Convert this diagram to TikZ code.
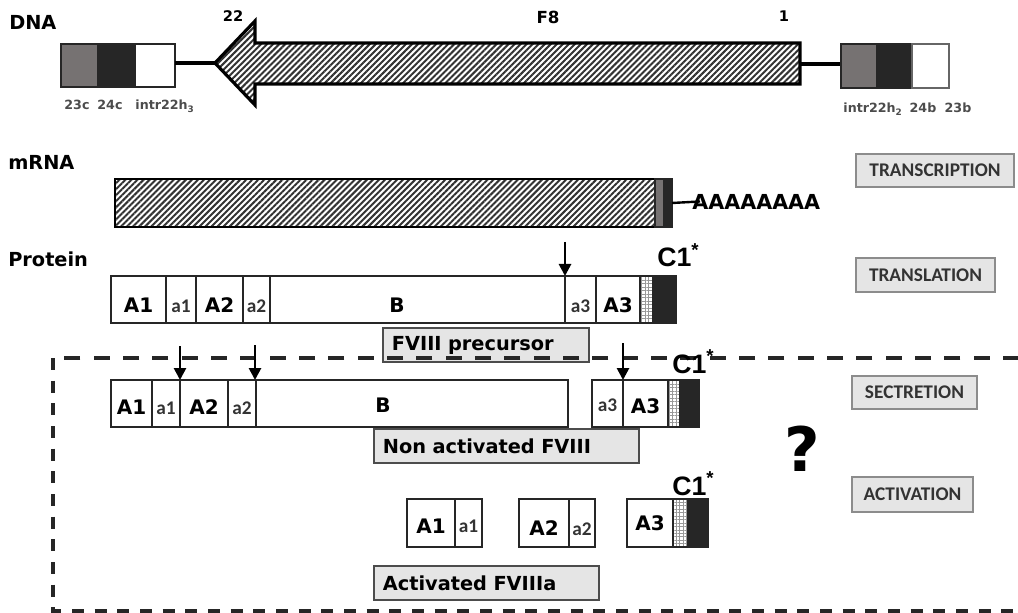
\documentclass[tikz,border=0pt]{standalone}
\usepackage{fontspec}
\setmainfont{DejaVu Sans}
\newfontfamily\calfont{Carlito}
\newfontfamily\arialfont{Liberation Sans}
\usetikzlibrary{patterns.meta,arrows.meta,calc}
\definecolor{gbox}{HTML}{767272}
\definecolor{dbox}{HTML}{262626}
\begin{document}
\begin{tikzpicture}[x=0.75pt,y=-0.75pt,
  outl/.style={draw=black!85,line width=1.9pt},
  hatch/.style={preaction={fill=white},pattern={Lines[angle=45,distance=3.2pt,line width=1.5pt]},pattern color=black!80},
  gridp/.style={preaction={fill=white},preaction={pattern={Lines[angle=0,distance=2.6pt,line width=0.35pt]},pattern color=black!40},pattern={Lines[angle=90,distance=2.6pt,line width=0.35pt]},pattern color=black!40},
  big/.style={font=\bfseries\fontsize{15}{15}\selectfont,anchor=base,inner sep=0pt},
  sml/.style={font=\calfont\bfseries\fontsize{14.5}{14.5}\selectfont,text=black!80,anchor=base,inner sep=0pt},
  hdr/.style={font=\bfseries\fontsize{14.5}{14.5}\selectfont,anchor=base west,inner sep=0pt},
  tiny/.style={font=\bfseries\fontsize{9.5}{9.5}\selectfont,text=black!70,anchor=base,inner sep=0pt},
  num/.style={font=\bfseries\fontsize{11}{11}\selectfont,anchor=base,inner sep=0pt},
  c1/.style={font=\arialfont\bfseries\fontsize{20}{20}\selectfont,anchor=base west,inner sep=0pt},
  stepbox/.style={draw=black!45,fill=black!10,line width=1.3pt,font=\calfont\bfseries\fontsize{14.5}{14.5}\selectfont,text=black!80,inner sep=0pt},
  namebox/.style={draw=black!70,fill=black!10,line width=1.4pt,font=\bfseries\fontsize{14.5}{14.5}\selectfont,inner ysep=0pt,inner xsep=6.75pt,align=left,anchor=west},
  cut/.style={line width=2pt,-{Triangle[width=9pt,length=9pt]}},
  dashline/.style={line width=2.6pt,draw=black!85}
]
\useasboundingbox (0,0) rectangle (1018,613);

% ---------------- DNA ----------------
\node[hdr] (dna) at (9,30) {DNA};
\fill[gbox] (61,44) rectangle (97,87);
\fill[dbox] (97,44) rectangle (134,87);
\draw[outl,line width=1.1pt] (61,44) rectangle (134,87);
\draw[outl,line width=1.5pt,fill=white] (135,44) rectangle (175,87);
\coordinate (lbr) at (175,63);
\coordinate (tip) at (215,63);
\draw[line width=2.6pt] (lbr) -- (tip);
\draw[hatch,line width=2.4pt,line join=miter] (tip) -- (255,21) -- (255,43) -- (800,43) -- (800,84) -- (255,84) -- (255,105) -- cycle;
\coordinate (shaftend) at (800,64);
\coordinate (rbl) at (841,64);
\draw[line width=2.6pt] (shaftend) -- (rbl);
\fill[gbox] (841,44) rectangle (876,88);
\fill[dbox] (876,44) rectangle (912,88);
\draw[outl,line width=1.1pt] (841,44) rectangle (912,88);
\draw[draw=black!60,line width=1.1pt,fill=white] (912,44) rectangle (949,88);

\node[num] (n22) at (233,22) {22};
\node[num,font=\bfseries\fontsize{12.5}{12.5}\selectfont] (f8) at (548,24) {F8};
\node[num] (n1) at (784,22) {1};

\node[tiny] (l23c) at (77,110) {23c};
\node[tiny] (l24c) at (110,110) {24c};
\node[tiny] (lint3) at (165,110) {intr22h\textsubscript{3}};
\node[tiny] (lint2) at (873,113) {intr22h\textsubscript{2}};
\node[tiny] (l24b) at (923,113) {24b};
\node[tiny] (l23b) at (958,113) {23b};

% ---------------- mRNA ----------------
\node[hdr] (mrna) at (8,170) {mRNA};
\draw[hatch,line width=1.8pt] (115,179) rectangle (655,227);
\fill[gbox] (655,179) rectangle (663,227);
\fill[dbox] (663,179) rectangle (672,227);
\draw[outl,line width=1.4pt] (655,179) rectangle (672,227);
\node[font=\bfseries\fontsize{15.5}{15.5}\selectfont,anchor=base west,inner sep=0pt] (polya) at (692,210) {AAAAAAAA};
\coordinate (mend) at (672,203);
\draw[line width=1.8pt] (mend) -- ($(polya.west)+(8,-1)$);

\node[stepbox,minimum width=118.5pt,minimum height=24.75pt] (transc) at (935,170.5) {TRANSCRIPTION};

% ---------------- Protein ----------------
\node[hdr] (prot) at (8,267) {Protein};
\path[gridp] (640,276) rectangle (653,323);
\fill[dbox] (653,276) rectangle (676,323);
\draw[outl] (111,276) rectangle (676,323);
\foreach \x in {166,196,243,270,565,596,640,653}
  \draw[outl] (\x,276) -- (\x,323);
\node[big] (pA1) at (138.5,312) {A1};
\node[sml] (pa1) at (181,312) {a1};
\node[big] (pA2) at (219.5,312) {A2};
\node[sml] (pa2) at (256.5,312) {a2};
\node[big] (pB) at (397,312) {B};
\node[sml] (pa3) at (580.5,312) {a3};
\node[big] (pA3) at (618,312) {A3};
\node[c1] (pc1) at (657,267) {C1\textsuperscript{*}};
\coordinate (pcut) at (565,276);
\draw[cut] ($(pcut)+(0,-34)$) -- (pcut);

\node[stepbox,minimum width=104.25pt,minimum height=25.5pt] (transl) at (925.5,275) {TRANSLATION};
\node[namebox,text width=141pt,minimum height=25.5pt] (precursor) at (382,345) {FVIII precursor};

% ---------------- dashed frame ----------------
\coordinate (dtl) at (53,358);
\coordinate (dtr) at (1019,358);
\coordinate (dbl) at (53,611);
\coordinate (dbr) at (1019,611);
\draw[dashline,dash pattern=on 12pt off 10pt] (dtr) -- (dtl);
\draw[dashline,dash pattern=on 9pt off 8pt] (dtl) -- (dbl) -- (dbr);

% ---------------- Secretion ----------------
\draw[outl] (111,380) rectangle (568,427);
\foreach \x in {152,180,228,256}
  \draw[outl] (\x,380) -- (\x,427);
\node[big] (sA1) at (131.5,414) {A1};
\node[sml] (sa1) at (166,414) {a1};
\node[big] (sA2) at (204,414) {A2};
\node[sml] (sa2) at (242,414) {a2};
\node[big] (sB) at (383,412) {B};
\path[gridp] (668,380) rectangle (680,427);
\fill[dbox] (680,380) rectangle (699,427);
\draw[outl] (592,380) rectangle (699,427);
\foreach \x in {623,668,680}
  \draw[outl] (\x,380) -- (\x,427);
\node[sml] (sa3) at (607.5,411) {a3};
\node[big] (sA3) at (645.5,413) {A3};
\node[c1] (sc1) at (672,373) {C1\textsuperscript{*}};
\coordinate (scut1) at (180,380);
\coordinate (scut2) at (255,380);
\coordinate (scut3) at (623,380);
\draw[cut] ($(scut1)+(0,-34)$) -- (scut1);
\draw[cut] ($(scut2)+(0,-35)$) -- (scut2);
\draw[cut] ($(scut3)+(0,-37)$) -- (scut3);

\node[namebox,text width=185.25pt,minimum height=25.5pt] (nonact) at (373,446) {Non activated FVIII};
\node[stepbox,minimum width=93.75pt,minimum height=24.75pt] (secr) at (914.5,392.5) {SECTRETION};
\node[font=\bfseries\fontsize{46}{46}\selectfont,inner sep=0pt] (q) at (802,449) {?};

% ---------------- Activation ----------------
\draw[outl] (407,499) rectangle (482,547);
\draw[outl] (455,499) -- (455,547);
\node[big] (aA1) at (431,533) {A1};
\node[sml] (aa1) at (468.5,532) {a1};
\draw[outl] (519,499) rectangle (595,547);
\draw[outl] (569,499) -- (569,547);
\node[big] (aA2) at (544,535) {A2};
\node[sml] (aa2) at (582,535) {a2};
\path[gridp] (673,499) rectangle (688,547);
\fill[dbox] (688,499) rectangle (708,547);
\draw[outl] (627,499) rectangle (708,547);
\foreach \x in {673,688}
  \draw[outl] (\x,499) -- (\x,547);
\node[big] (aA3) at (650,530) {A3};
\node[c1] (ac1) at (672,495) {C1\textsuperscript{*}};

\node[stepbox,minimum width=90.75pt,minimum height=26.25pt] (activ) at (912.5,494.5) {ACTIVATION};
\node[namebox,text width=155.25pt,minimum height=25.5pt] (activated) at (373,583) {Activated FVIIIa};
\end{tikzpicture}
\end{document}
